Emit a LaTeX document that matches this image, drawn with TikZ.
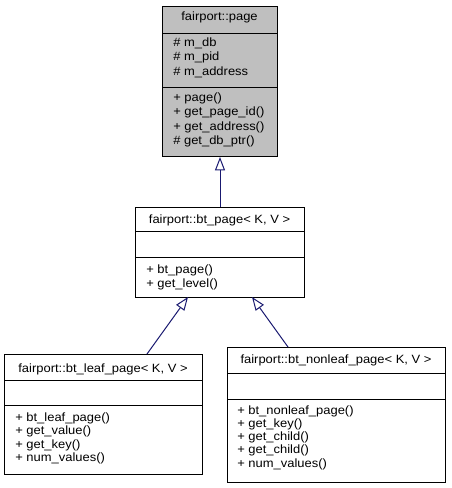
\documentclass[tikz,border=0pt]{standalone}
\usepackage{fontspec}
\setmainfont{Liberation Sans}
\newfontfamily\doxfont[FakeStretch=1.08]{Liberation Sans}
\usetikzlibrary{arrows.meta}
\definecolor{edgeblue}{RGB}{25,25,112}

\begin{document}
\begin{tikzpicture}[x=0.75pt,y=-0.75pt,font=\doxfont\fontsize{9}{10}\selectfont,
    classbox/.style={draw,line width=0.75pt,anchor=north west,inner sep=0pt},
    title/.style={anchor=base,inner sep=0pt},
    member/.style={anchor=base west,inner sep=0pt},
    inherit/.style={draw=edgeblue,line width=0.75pt,-{Triangle[open,length=10pt,width=7.5pt]}}]
                \useasboundingbox (0,0) rectangle (451,488);
                % fairport::page
                \node[classbox,fill=black!25,minimum width=86.25pt,minimum height=112.5pt] (page) at (162,6) {};
                \draw (page.west |- 0,33) -- (page.east |- 0,33) (page.west |- 0,87) -- (page.east |- 0,87);
                \node[title] (pageT) at (219.5,21) {fairport::page};
                \node[member] (pageA1) at (173,47) {\# m\_db};
                \node[member] (pageA2) at (173,61) {\# m\_pid};
                \node[member] (pageA3) at (173,76) {\# m\_address};
                \node[member] (pageM1) at (173,102) {+ page()};
                \node[member] (pageM2) at (173,116) {+ get\_page\_id()};
                \node[member] (pageM3) at (173,131) {+ get\_address()};
                \node[member] (pageM4) at (173,145) {\# get\_db\_ptr()};
                % fairport::bt_page
                \node[classbox,minimum width=126.75pt,minimum height=67.5pt] (bt) at (135,207) {};
                \draw (bt.west |- 0,231) -- (bt.east |- 0,231) (bt.west |- 0,257) -- (bt.east |- 0,257);
                \node[title] (btT) at (219.5,223) {fairport::bt\_page< K, V >};
                \node[member] (btM1) at (146,273) {+ bt\_page()};
                \node[member] (btM2) at (146,287) {+ get\_level()};
                % fairport::bt_leaf_page
                \node[classbox,minimum width=148.5pt,minimum height=90pt] (leaf) at (4,354) {};
                \draw (leaf.west |- 0,380) -- (leaf.east |- 0,380) (leaf.west |- 0,405) -- (leaf.east |- 0,405);
                \node[title] (leafT) at (103,372) {fairport::bt\_leaf\_page< K, V >};
                \node[member] (leafM1) at (15,421) {+ bt\_leaf\_page()};
                \node[member] (leafM2) at (15,434) {+ get\_value()};
                \node[member] (leafM3) at (15,448) {+ get\_key()};
                \node[member] (leafM4) at (15,461) {+ num\_values()};
                % fairport::bt_nonleaf_page
                \node[classbox,minimum width=163.5pt,minimum height=101.25pt] (nonleaf) at (227,347) {};
                \draw (nonleaf.west |- 0,373) -- (nonleaf.east |- 0,373) (nonleaf.west |- 0,399) -- (nonleaf.east |- 0,399);
                \node[title] (nonleafT) at (336,363) {fairport::bt\_nonleaf\_page< K, V >};
                \node[member] (nonleafM1) at (237,414) {+ bt\_nonleaf\_page()};
                \node[member] (nonleafM2) at (237,427) {+ get\_key()};
                \node[member] (nonleafM3) at (237,440) {+ get\_child()};
                \node[member] (nonleafM4) at (237,453) {+ get\_child()};
                \node[member] (nonleafM5) at (237,467) {+ num\_values()};
                % inheritance
                \coordinate (leafTail) at (147,354);
                \coordinate (leafTip) at (188,297);
                \coordinate (nonleafTail) at (288,347);
                \coordinate (nonleafTip) at (252,297);
                \draw[inherit] (bt.north) -- (page.south);
                \draw[inherit] (leafTail) -- (leafTip);
                \draw[inherit] (nonleafTail) -- (nonleafTip);
            \end{tikzpicture}
\end{document}
